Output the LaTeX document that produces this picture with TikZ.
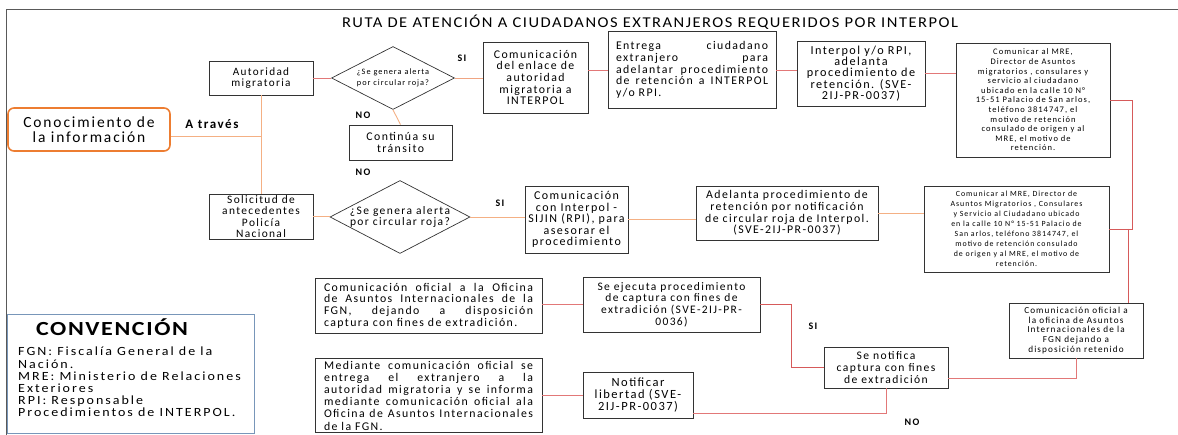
\documentclass[tikz,border=0pt]{standalone}
\usepackage{fontspec}
\setmainfont{Carlito}[LetterSpace=12]
\newfontfamily\titlefont{Carlito}[FakeStretch=1.1, LetterSpace=10]
\newfontfamily\convfont{Carlito}[FakeStretch=1.12, LetterSpace=16]
\newfontfamily\convtfont{Carlito}[FakeStretch=1.2, LetterSpace=8]
\usetikzlibrary{shapes.geometric,calc}
\newcommand{\fs}[2]{\fontsize{#1}{#2}\selectfont}
\definecolor{lor}{RGB}{244,176,132}
\definecolor{lrd}{RGB}{226,120,120}
\definecolor{drd}{RGB}{214,90,90}
\definecolor{obox}{RGB}{237,125,49}
\definecolor{cblue}{RGB}{120,150,185}
\begin{document}
\begin{tikzpicture}[x=1pt,y=-1pt,
  bx/.style={draw=black!80, line width=0.8pt, inner sep=1pt, align=center, font=\fs{11.8}{11.7}},
  jbx/.style={bx, align=left, inner ysep=2pt},
  dm/.style={diamond, draw=black!80, line width=0.7pt, inner sep=0pt},
  lbl/.style={font=\bfseries\fs{10}{10}},
  orl/.style={draw=lor, line width=0.9pt},
  rdl/.style={draw=lrd, line width=0.7pt},
]
\useasboundingbox (0,0) rectangle (1178,435);
\draw[black!65, line width=0.8pt] (1178,9) -- (6,9) -- (6,435);

\node[font=\titlefont\fs{15}{15}] (title) at (650,22) {RUTA DE ATENCIÓN A CIUDADANOS EXTRANJEROS REQUERIDOS POR INTERPOL};

% left
\node[draw=obox, line width=1.6pt, rounded corners=6pt, minimum width=162pt, minimum height=43pt, align=center, font=\fs{15.5}{15.5}] (con) at (89,129.5) {Conocimiento de\\la información};
\node[lbl, font=\bfseries\fs{13}{13}] (atr) at (212,124) {A través};
\node[bx, minimum width=104pt, minimum height=34pt, font=\fs{11.2}{11.7}] (aut) at (261,78) {Autoridad\\migratoria};
\node[bx, minimum width=104pt, minimum height=45pt, inner sep=0pt, font=\fs{11.4}{11.2}] (sol) at (261,216.5) {Solicitud de\\antecedentes\\Policía\\Nacional};

% diamonds
\node[dm, minimum width=123pt, minimum height=63pt] (d1) at (393,78) {};
\node[font=\fs{8.3}{10.5}, align=center, inner sep=0pt] (d1t) at (393,78) {¿Se genera alerta\\por circular roja?};
\node[dm, minimum width=140pt, minimum height=73pt] (d2) at (400,217) {};
\node[font=\fs{11.5}{11.7}, align=center, inner sep=0pt] (d2t) at (400,217) {¿Se genera alerta\\por circular roja?};

\node[bx, minimum width=103pt, minimum height=35pt] (cont) at (400.5,142.5) {Continúa su\\tránsito};

% top row
\node[bx, minimum width=105pt, minimum height=71pt] (enl) at (535.5,77.5) {Comunicación\\del enlace de\\autoridad\\migratoria a\\INTERPOL};
\node[jbx, text width=152pt, inner xsep=8pt, minimum height=77pt] (ent) at (692,70) {Entrega\hfill ciudadano\\extranjero\hfill para\\adelantar\hfill procedimiento\\de\hfill retención\hfill a\hfill INTERPOL\\y/o RPI.};
\node[bx, minimum width=128pt, minimum height=65pt, inner sep=0pt, font=\fs{12.2}{11.3}] (rpi) at (861,73.5) {Interpol y/o RPI,\\adelanta\\procedimiento de\\retención. (SVE-\\2IJ-PR-0037)};
\node[bx, minimum width=154pt, minimum height=114pt, font=\fs{8.5}{9.6}] (mre1) at (1033,100) {Comunicar al MRE,\\Director de Asuntos\\migratorios , consulares y\\servicio al ciudadano\\ubicado en la calle 10 N°\\15-51 Palacio de San arlos,\\teléfono 3814747, el\\motivo de retención\\consulado de origen y al\\MRE, el motivo de\\retención.};

% second row
\node[bx, minimum width=103pt, minimum height=67pt, inner sep=0pt, font=\fs{12}{11.4}] (cint) at (576.5,219.5) {Comunicación\\con Interpol -\\SIJIN (RPI), para\\asesorar el\\procedimiento};
\node[bx, minimum width=182pt, minimum height=54pt] (adel) at (787,213) {Adelanta procedimiento de\\retención por notificación\\de circular roja de Interpol.\\(SVE-2IJ-PR-0037)};
\node[bx, minimum width=185pt, minimum height=86pt, font=\fs{7.9}{10}] (mre2) at (1016.5,229) {Comunicar al MRE, Director de\\Asuntos Migratorios , Consulares\\y Servicio al Ciudadano ubicado\\en la calle 10 N° 15-51 Palacio de\\San arlos, teléfono 3814747, el\\motivo de retención consulado\\de origen y al MRE, el motivo de\\retención.};

% lower part
\node[bx, minimum width=134pt, minimum height=55pt, inner sep=0pt, font=\fs{9.2}{9.8}] (cofi) at (1076,330.5) {Comunicación oficial a\\la oficina de Asuntos\\Internacionales de la\\FGN dejando a\\disposición retenido};
\node[bx, minimum width=124pt, minimum height=41pt, inner sep=0pt, font=\fs{11.6}{12}] (noti) at (886,367.5) {Se notifica\\captura con fines\\de extradición};
\node[bx, minimum width=177pt, minimum height=55pt, font=\fs{11.5}{11.7}] (ejec) at (671.5,304.5) {Se ejecuta procedimiento\\de captura con fines de\\extradición (SVE-2IJ-PR-\\0036)};
\node[jbx, text width=209pt, inner xsep=9pt, minimum height=55pt] (ofic) at (428.5,305.5) {Comunicación\hfill oficial\hfill a\hfill la\hfill Oficina\\de\hfill Asuntos\hfill Internacionales\hfill de\hfill la\\FGN,\hfill dejando\hfill a\hfill disposición\\captura con fines de extradición.};
\node[bx, minimum width=110pt, minimum height=46pt, inner sep=0pt, font=\fs{12.5}{12}] (lib) at (638,395) {Notificar\\libertad (SVE-\\2IJ-PR-0037)};
\node[jbx, text width=209pt, inner xsep=9pt, minimum height=73pt, font=\fs{11.8}{12.2}] (med) at (428.5,395.5) {Mediante\hfill comunicación\hfill oficial\hfill se\\entrega\hfill el\hfill extranjero\hfill a\hfill la\\autoridad\hfill migratoria\hfill y\hfill se\hfill informa\\mediante\hfill comunicación\hfill oficial\hfill ala\\Oficina\hfill de\hfill Asuntos\hfill Internacionales\\de la FGN.};

% convention
\node[draw=cblue, line width=0.9pt, minimum width=247pt, minimum height=119pt] (conv) at (130.5,373.5) {};
\node[font=\convtfont\bfseries\fs{20}{20}, inner sep=0pt] (convt) at (112,327) {CONVENCIÓN};
\node[anchor=north west, align=left, inner sep=0pt, font=\convfont\fs{12.5}{12.2}] (convb) at (18,347) {FGN: Fiscalía General de la\\Nación.\\MRE: Ministerio de Relaciones\\Exteriores\\RPI: Responsable\\Procedimientos de INTERPOL.};

% labels
\node[lbl] (si1) at (462,58) {SI};
\node[lbl] (no1) at (363,115) {NO};
\node[lbl] (no2) at (363,172) {NO};
\node[lbl] (si2) at (500,203) {SI};
\node[lbl] (si3) at (813,326) {SI};
\node[lbl] (no3) at (912,422) {NO};

% connectors
\coordinate (j1) at (261,136);
\draw[orl] ($(con.east)+(0,6.5)$) -- (j1);
\draw[orl] (aut.south) -- (sol.north);
\draw[rdl] (aut.east) -- (d1.west);
\draw[draw=lor!80!lrd, line width=0.7pt] (d1.east) -- (d1.east -| enl.west);
\draw[orl] (d1.south) -- (cont.north);
\draw[rdl] (enl.east |- ent.west) -- (ent.west);
\draw[rdl] (ent.east) -- (ent.east -| rpi.west);
\draw[rdl] (rpi.east) -- (rpi.east -| mre1.west);
\draw[draw=drd, line width=0.8pt] (mre1.east) -- ++(22,0) |- (mre2.east);
\coordinate (j2) at (1128,229);
\draw[draw=drd, line width=0.8pt] (j2) -- (j2 |- cofi.north);
\draw[rdl] (cofi.south) |- ($(noti.east)+(0,11)$);
\draw[draw=drd, line width=0.8pt] (noti.west) -- ++(-32,0) |- (ejec.east);
\draw[rdl] (ejec.west) -- (ejec.west -| ofic.east);
\draw[rdl] (noti.south) |- ($(lib.east)+(0,18)$);
\draw[rdl] (lib.west) -- (lib.west -| med.east);
\draw[orl] (sol.east) -- (sol.east -| d2.west);
\draw[orl] (d2.east) -- (d2.east -| cint.west);
\draw[orl] (cint.east) -- (cint.east -| adel.west);
\draw[orl] (adel.east) -- (adel.east -| mre2.west);
\end{tikzpicture}
\end{document}
